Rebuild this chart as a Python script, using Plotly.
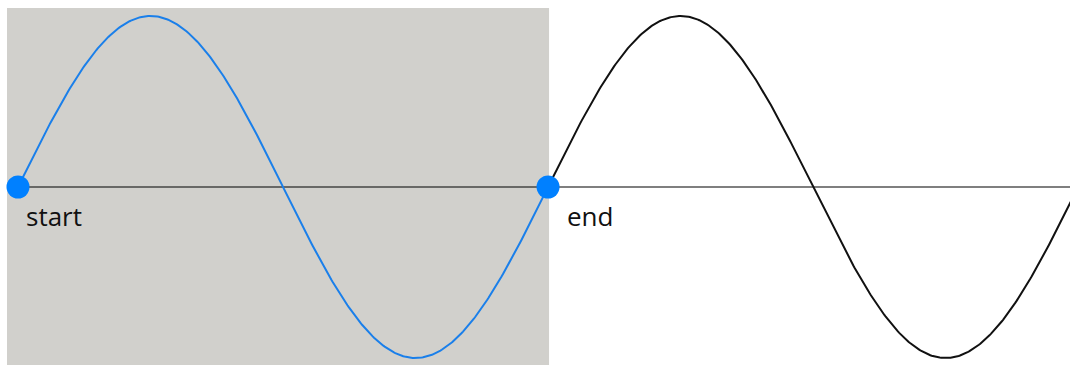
import numpy as np
import plotly.graph_objects as go

# Data: one cycle highlighted (start -> end), followed by the next cycle
phase_start = 0.0
phase_end = 2 * np.pi
phase_max = 3.97 * np.pi
amplitude = 1.0
marker_x = [phase_start, phase_end]
marker_y = [0.0, 0.0]
labels = ["start", "end"]

t_blue = np.linspace(phase_start, phase_end, 400)
t_black = np.linspace(phase_end, phase_max + 0.2, 400)

x_range = [-0.2134, 12.4706]
y_range = [-1.041, 1.0936]

fig = go.Figure()

# highlighted cycle background
fig.add_shape(type="rect", x0=-0.1304, x1=phase_end + 0.012, y0=y_range[0] - 0.1, y1=1.047,
              fillcolor="#d1d0cc", line=dict(width=0), layer="below")

# baseline
fig.add_trace(go.Scatter(x=[phase_start, x_range[1] + 0.2], y=[0, 0], mode="lines",
                         line=dict(color="#000000", width=1.2), hoverinfo="skip"))

fig.add_trace(go.Scatter(x=t_black, y=amplitude * np.sin(t_black), mode="lines",
                         line=dict(color="#111111", width=2), hoverinfo="skip"))
fig.add_trace(go.Scatter(x=t_blue, y=amplitude * np.sin(t_blue), mode="lines",
                         line=dict(color="#1a7fea", width=2), hoverinfo="skip"))
fig.add_trace(go.Scatter(x=marker_x, y=marker_y, mode="markers",
                         marker=dict(color="#0080ff", size=23), hoverinfo="skip"))

for x, lab, dx in zip(marker_x, labels, [6, 17]):
    fig.add_annotation(x=x, y=0, text=lab, showarrow=False, xanchor="left", yanchor="middle",
                       xshift=dx, yshift=-29, font=dict(family="Open Sans, sans-serif",
                                                         size=26, color="#111111"))

fig.update_layout(width=1070, height=365, margin=dict(l=0, r=0, t=0, b=0),
                  paper_bgcolor="white", plot_bgcolor="white", showlegend=False,
                  xaxis=dict(range=x_range, visible=False, fixedrange=True),
                  yaxis=dict(range=y_range, visible=False, fixedrange=True))

fig.write_html("out.html", config={"displayModeBar": False},
               post_script="document.body.style.margin='0';document.body.style.overflow='hidden';")
